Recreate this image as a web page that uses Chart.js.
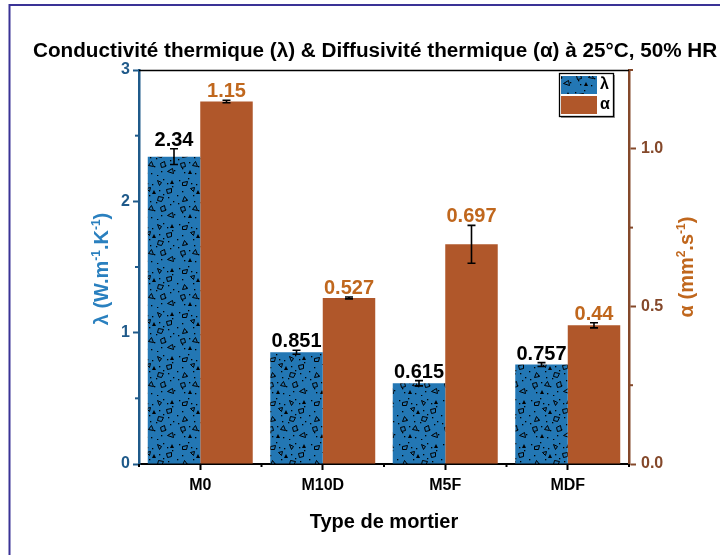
<!DOCTYPE html>
<html><head><meta charset="utf-8">
<script src="https://cdn.jsdelivr.net/npm/chart.js@4.4.1/dist/chart.umd.min.js"></script>
<style>html,body{margin:0;padding:0;background:#fff;}#wrap{width:720px;height:555px;}</style>
</head><body><div id="wrap"><canvas id="c" width="720" height="555"></canvas></div>
<script>
const categories = ['M0', 'M10D', 'M5F', 'MDF'];
const lambdaValues = [2.34, 0.851, 0.615, 0.757];
const lambdaErrors = [0.06, 0.015, 0.02, 0.015];
const alphaValues = [1.15, 0.527, 0.697, 0.44];
const alphaErrors = [0.004, 0.003, 0.06, 0.008];
const lambdaLabels = ['2.34', '0.851', '0.615', '0.757'];
const alphaLabels = ['1.15', '0.527', '0.697', '0.44'];
const lambdaTicks = [0, 1, 2, 3];
const lambdaMinorTicks = [0.5, 1.5, 2.5];
const alphaTicks = [0, 0.5, 1.0];
const alphaMinorTicks = [0.25, 0.75, 1.25];

const FONT = '"Liberation Sans", Arial, Helvetica, sans-serif';
const BLUE = '#2377b4';
const BROWN = '#b0572a';
const AX_BLUE = '#1f5a8a';
const AX_BROWN = '#84482a';
const TITLE_BLUE = '#2a80bf';
const ORANGE = '#c0671d';

function makePattern() {
  const p = document.createElement('canvas');
  p.width = 44; p.height = 44;
  const g = p.getContext('2d');
  g.fillStyle = BLUE; g.fillRect(0, 0, 44, 44);
  g.fillStyle = '#000';
  const dots = [[3,4],[12,2],[20,8],[31,3],[40,10],[6,15],[17,19],[27,14],[36,21],[2,27],[13,30],[24,26],[33,33],[42,38],[8,40],[19,41],[29,39],[38,28],[22,34],[10,23],[15,7],[35,7],[1,19],[41,25],[18,25],[31,18],[6,36],[25,43]];
  dots.forEach(d => g.fillRect(d[0], d[1], 1.3, 1.3));
  g.strokeStyle = '#000'; g.lineWidth = 1;
  const polys = [
    [[6,6],[11,5],[10,9],[6,9]],
    [[25,4],[29,6],[27,9]],
    [[34,13],[39,12],[39,16],[35,17]],
    [[14,12],[18,11],[17,15]],
    [[4,31],[8,30],[9,34],[5,35]],
    [[26,20],[31,21],[29,25],[25,24]],
    [[16,33],[19,29],[21,34]],
    [[35,39],[40,36],[41,41]],
    [[8,20],[11,24],[6,25]],
    [[28,31],[32,29],[33,34],[29,35]]
  ];
  polys.forEach(pl => {
    g.beginPath(); g.moveTo(pl[0][0]+0.5, pl[0][1]+0.5);
    for (let i = 1; i < pl.length; i++) g.lineTo(pl[i][0]+0.5, pl[i][1]+0.5);
    g.closePath(); g.stroke();
  });
  const tri = [[20,14],[38,4],[12,38]];
  tri.forEach(t => { g.beginPath(); g.moveTo(t[0], t[1]+4); g.lineTo(t[0]+2, t[1]); g.lineTo(t[0]+4, t[1]+4); g.closePath(); g.fill(); });
  return g.createPattern(p, 'repeat');
}

const ctx = document.getElementById('c').getContext('2d');
const lambdaPattern = makePattern();

function drawRich(c, parts, size) {
  let w = 0;
  parts.forEach(p => {
    c.font = 'bold ' + (p.sup ? Math.round(size * 0.62) : size) + 'px ' + FONT;
    p.w = c.measureText(p.t).width; w += p.w;
  });
  let x = -w / 2;
  parts.forEach(p => {
    c.font = 'bold ' + (p.sup ? Math.round(size * 0.62) : size) + 'px ' + FONT;
    c.fillText(p.t, x, p.sup ? -size * 0.38 : 0);
    x += p.w;
  });
}

const decor = {
  id: 'decor',
  afterDatasetsDraw(chart) {
    const c = chart.ctx;
    const ys = chart.scales.y, ys1 = chart.scales.y1;
    const metas = [chart.getDatasetMeta(0), chart.getDatasetMeta(1)];
    const vals = [lambdaValues, alphaValues];
    const errs = [lambdaErrors, alphaErrors];
    const labs = [lambdaLabels, alphaLabels];
    const scales = [ys, ys1];
    const colors = ['#000', ORANGE];
    c.save();
    for (let d = 0; d < 2; d++) {
      metas[d].data.forEach((bar, i) => {
        const x = bar.x;
        const yHi = scales[d].getPixelForValue(vals[d][i] + errs[d][i]);
        const yLo = scales[d].getPixelForValue(vals[d][i] - errs[d][i]);
        c.strokeStyle = '#000'; c.lineWidth = 1.6;
        c.beginPath();
        c.moveTo(x, yHi); c.lineTo(x, yLo);
        c.moveTo(x - 4, yHi); c.lineTo(x + 4, yHi);
        c.moveTo(x - 4, yLo); c.lineTo(x + 4, yLo);
        c.stroke();
        c.fillStyle = colors[d];
        c.font = 'bold 20px ' + FONT;
        c.textAlign = 'center'; c.textBaseline = 'alphabetic';
        c.fillText(labs[d][i], x, yHi - 3);
      });
    }
    c.restore();
  },
  afterDraw(chart) {
    const c = chart.ctx;
    const a = chart.chartArea;
    const ys = chart.scales.y, ys1 = chart.scales.y1;
    c.save();
    c.strokeStyle = '#000'; c.lineWidth = 1.5;
    c.beginPath(); c.moveTo(a.left, a.top + 0.5); c.lineTo(a.right, a.top + 0.5); c.stroke();
    c.strokeStyle = AX_BLUE; c.lineWidth = 2;
    lambdaMinorTicks.forEach(v => { const y = ys.getPixelForValue(v); c.beginPath(); c.moveTo(a.left, y); c.lineTo(a.left - 4, y); c.stroke(); });
    c.strokeStyle = AX_BROWN;
    alphaMinorTicks.forEach(v => { const y = ys1.getPixelForValue(v); c.beginPath(); c.moveTo(a.right, y); c.lineTo(a.right + 4, y); c.stroke(); });
    c.strokeStyle = '#000'; c.lineWidth = 2;
    const step = (a.right - a.left) / categories.length;
    for (let i = 0; i <= categories.length; i++) {
      const x = a.left + step * i;
      c.beginPath(); c.moveTo(x, a.bottom); c.lineTo(x, a.bottom + 3); c.stroke();
    }
    c.fillStyle = '#000';
    c.font = 'bold 20.7px ' + FONT;
    c.textAlign = 'left'; c.textBaseline = 'middle';
    c.fillText('Conductivité thermique (λ) & Diffusivité thermique (α) à 25°C, 50% HR', 33, 51);
    c.font = 'bold 20px ' + FONT; c.textAlign = 'center';
    c.fillText('Type de mortier', (a.left + a.right) / 2, 522);
    c.save();
    c.translate(108, (a.top + a.bottom) / 2 + 2);
    c.rotate(-Math.PI / 2);
    c.fillStyle = TITLE_BLUE; c.textAlign = 'left'; c.textBaseline = 'alphabetic';
    drawRich(c, [{t:'λ (W.m'},{t:'-1',sup:true},{t:'.K'},{t:'-1',sup:true},{t:')'}], 20);
    c.restore();
    c.save();
    c.translate(693, (a.top + a.bottom) / 2);
    c.rotate(-Math.PI / 2);
    c.fillStyle = ORANGE; c.textAlign = 'left'; c.textBaseline = 'alphabetic';
    drawRich(c, [{t:'α (mm'},{t:'2',sup:true},{t:'.s'},{t:'-1',sup:true},{t:')'}], 20);
    c.restore();
    const lx = 559, ly = 73, lw = 54, lh = 43;
    c.fillStyle = '#9a9a9a'; c.fillRect(lx + 2, ly + 2, lw, lh);
    c.fillStyle = '#fff'; c.fillRect(lx, ly, lw, lh);
    c.strokeStyle = '#000'; c.lineWidth = 1.3; c.strokeRect(lx + 0.5, ly + 0.5, lw, lh);
    c.fillStyle = lambdaPattern; c.fillRect(lx + 2, ly + 3, 36, 18);
    c.fillStyle = BROWN; c.fillRect(lx + 2, ly + 23, 36, 18);
    c.fillStyle = '#000'; c.font = 'bold 16px ' + FONT; c.textAlign = 'left'; c.textBaseline = 'middle';
    c.fillText('λ', lx + 41, ly + 12);
    c.fillText('α', lx + 41, ly + 32);
    c.strokeStyle = '#3a3396'; c.lineWidth = 2;
    c.beginPath(); c.moveTo(9.5, 555); c.lineTo(9.5, 5); c.lineTo(720, 5); c.stroke();
    c.restore();
  }
};

new Chart(ctx, {
  type: 'bar',
  data: {
    labels: categories,
    datasets: [
      { label: 'λ', data: lambdaValues, backgroundColor: lambdaPattern, yAxisID: 'y', borderWidth: 0 },
      { label: 'α', data: alphaValues, backgroundColor: BROWN, yAxisID: 'y1', borderWidth: 0 }
    ]
  },
  options: {
    responsive: false,
    animation: false,
    events: [],
    layout: { padding: { top: 70, left: 0, right: 0, bottom: 0 } },
    datasets: { bar: { categoryPercentage: 0.857, barPercentage: 1.0 } },
    plugins: { legend: { display: false }, title: { display: false }, tooltip: { enabled: false } },
    scales: {
      x: {
        offset: true,
        grid: { display: true, drawOnChartArea: false, offset: false, tickLength: 6, tickColor: '#000', tickWidth: 2 },
        border: { color: '#000', width: 2 },
        ticks: { color: '#000', font: { family: FONT, size: 16, weight: 'bold' }, padding: 6 },
        afterFit(s) { s.height = 91; }
      },
      y: {
        position: 'left', min: 0, max: 3,
        afterBuildTicks(s) { s.ticks = lambdaTicks.map(v => ({ value: v })); },
        grid: { drawOnChartArea: false, tickLength: 6, tickColor: AX_BLUE, tickWidth: 2 },
        border: { color: AX_BLUE, width: 2.5 },
        ticks: { color: AX_BLUE, font: { family: FONT, size: 16, weight: 'bold' }, padding: 3, callback: v => String(v) },
        afterFit(s) { s.width = 139; }
      },
      y1: {
        position: 'right', min: 0, max: 1.25,
        afterBuildTicks(s) { s.ticks = alphaTicks.map(v => ({ value: v })); },
        grid: { drawOnChartArea: false, tickLength: 7, tickColor: AX_BROWN, tickWidth: 2 },
        border: { color: AX_BROWN, width: 2.5 },
        ticks: { color: AX_BROWN, font: { family: FONT, size: 16, weight: 'bold' }, padding: 5, callback: v => Number(v).toFixed(1) },
        afterFit(s) { s.width = 91; }
      }
    }
  },
  plugins: [decor]
});
</script></body></html>
